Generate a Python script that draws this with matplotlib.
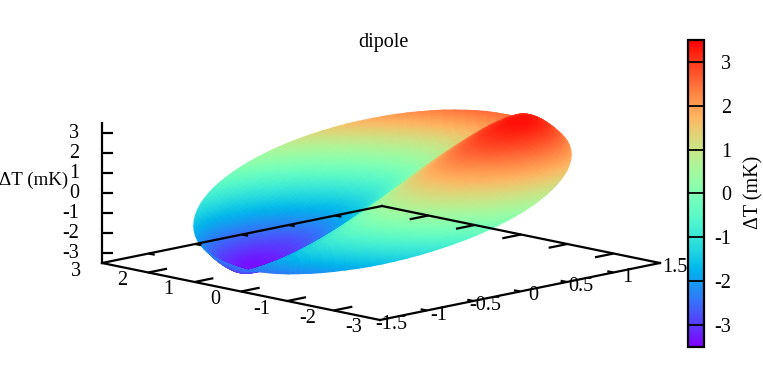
import numpy as np, matplotlib
matplotlib.use('Agg')
import matplotlib.pyplot as plt
from matplotlib.cm import ScalarMappable
from matplotlib.colors import Normalize
from matplotlib.tri import Triangulation, UniformTriRefiner, CubicTriInterpolator

plt.rcParams['font.family'] = ['Liberation Serif', 'DejaVu Serif']
plt.rcParams['axes.unicode_minus'] = False

# ---- data ----
lon_deg = [-180,-165,-150,-135,-120,-105,-90,-75,-60,-45,-30,-15,0,15,30,45,60,75,90,105,120,135,150,165,180]
lat_deg = [-90,-75,-60,-45,-30,-15,0,15,30,45,60,75,90]
dT_mK = [
 [-2.50]*25,
 [-2.35,-2.20,-2.07,-1.96,-1.88,-1.84,-1.83,-1.87,-1.94,-2.05,-2.18,-2.32,-2.47,-2.62,-2.75,-2.86,-2.94,-2.99,-2.99,-2.96,-2.88,-2.78,-2.65,-2.50,-2.35],
 [-2.04,-1.76,-1.50,-1.29,-1.14,-1.05,-1.04,-1.11,-1.25,-1.45,-1.71,-1.99,-2.28,-2.57,-2.82,-3.04,-3.19,-3.27,-3.28,-3.21,-3.07,-2.87,-2.62,-2.34,-2.04],
 [-1.60,-1.20,-0.83,-0.53,-0.31,-0.20,-0.18,-0.28,-0.48,-0.77,-1.12,-1.52,-1.93,-2.34,-2.70,-3.00,-3.22,-3.34,-3.35,-3.25,-3.05,-2.77,-2.41,-2.01,-1.60],
 [-1.04,-0.55,-0.10,0.26,0.53,0.67,0.69,0.57,0.33,-0.02,-0.46,-0.94,-1.45,-1.95,-2.39,-2.76,-3.03,-3.17,-3.18,-3.07,-2.82,-2.47,-2.04,-1.55,-1.04],
 [-0.42,0.13,0.63,1.04,1.34,1.50,1.51,1.38,1.11,0.72,0.24,-0.31,-0.87,-1.42,-1.92,-2.33,-2.63,-2.79,-2.81,-2.67,-2.40,-2.01,-1.53,-0.99,-0.42],
 [0.23,0.81,1.32,1.75,2.05,2.22,2.24,2.10,1.82,1.41,0.91,0.35,-0.23,-0.81,-1.32,-1.75,-2.05,-2.22,-2.24,-2.10,-1.82,-1.41,-0.91,-0.35,0.23],
 [0.87,1.42,1.92,2.33,2.63,2.79,2.81,2.67,2.40,2.01,1.53,0.99,0.42,-0.13,-0.63,-1.04,-1.34,-1.50,-1.51,-1.38,-1.11,-0.72,-0.24,0.31,0.87],
 [1.45,1.95,2.39,2.76,3.03,3.17,3.18,3.07,2.82,2.47,2.04,1.55,1.04,0.55,0.10,-0.26,-0.53,-0.67,-0.69,-0.57,-0.33,0.02,0.46,0.94,1.45],
 [1.93,2.34,2.70,3.00,3.22,3.34,3.35,3.25,3.05,2.77,2.41,2.01,1.60,1.20,0.83,0.53,0.31,0.20,0.18,0.28,0.48,0.77,1.12,1.52,1.93],
 [2.28,2.57,2.82,3.04,3.19,3.27,3.28,3.21,3.07,2.87,2.62,2.34,2.04,1.76,1.50,1.29,1.14,1.05,1.04,1.11,1.25,1.45,1.71,1.99,2.28],
 [2.47,2.62,2.75,2.86,2.94,2.99,2.99,2.96,2.88,2.78,2.65,2.50,2.35,2.20,2.07,1.96,1.88,1.84,1.83,1.87,1.94,2.05,2.18,2.32,2.47],
 [2.50]*25,
]
x_ticks = [3, 2, 1, 0, -1, -2, -3]
y_ticks = [-1.5, -1, -0.5, 0, 0.5, 1, 1.5]
z_ticks = [-3, -2, -1, 0, 1, 2, 3]
cb_ticks = [-3, -2, -1, 0, 1, 2, 3]
title = 'dipole'
z_label = '\u0394T (mK)'

# ---- figure and gnuplot-like view ----
W, H = 763, 385
FS = 14.5
fig = plt.figure(figsize=(W/100, H/100), dpi=100)
ax = fig.add_axes([0, 0, 1, 1])
ax.set_xlim(0, W); ax.set_ylim(H, 0); ax.axis('off')
XMIN, XMAX, YMIN, YMAX, ZMIN, ZMAX = -3, 3, -1.5, 1.5, -3.5, 3.5

def view(x, y, z):
    x, y, z = np.asarray(x, float), np.asarray(y, float), np.asarray(z, float)
    return 381 - 46.33*x + 93.33*y, 193 - 9.5*x - 19*y - 20*z

def hammer(lon, lat):
    d = np.sqrt(1 + np.cos(lat)*np.cos(lon/2))
    return 2.87*np.cos(lat)*np.sin(lon/2)/d, 1.435*np.sin(lat)/d

# ---- surface: table smoothed by the library's refiner, drawn with gouraud shading ----
LON, LAT = np.meshgrid(lon_deg, lat_deg)
n, m = LON.shape
ids = np.arange(n*m).reshape(n, m)
tris = np.vstack([
    np.c_[ids[:-1, :-1].ravel(), ids[:-1, 1:].ravel(), ids[1:, 1:].ravel()],
    np.c_[ids[:-1, :-1].ravel(), ids[1:, 1:].ravel(), ids[1:, :-1].ravel()]])
tri = Triangulation(LON.ravel().astype(float), LAT.ravel().astype(float), tris)
Zv = np.array(dT_mK, float).ravel()
fine, zf = UniformTriRefiner(tri).refine_field(Zv, CubicTriInterpolator(tri, Zv, kind='geom'), subdiv=2)
xf, yf = hammer(np.radians(fine.x), np.radians(fine.y))
depth = xf/3 + yf/1.5 - zf/3.5
order = np.argsort(-depth[fine.triangles].mean(axis=1))
sx, sy = view(xf, yf, zf)
ax.tripcolor(Triangulation(sx + 1.5, sy + 0.5, fine.triangles[order]), zf, shading='gouraud',
             cmap='rainbow', vmin=ZMIN, vmax=ZMAX, zorder=1)

# ---- axes box ----
LW = 1.6
def seg(p, q, cap='projecting'):
    a = view(*p); b = view(*q)
    ax.plot([a[0], b[0]], [a[1], b[1]], color='k', lw=LW, solid_capstyle=cap, zorder=3)

seg((XMAX, YMIN, ZMIN), (XMIN, YMIN, ZMIN))
seg((XMIN, YMIN, ZMIN), (XMIN, YMAX, ZMIN))
seg((XMIN, YMAX, ZMIN), (XMAX, YMAX, ZMIN))
seg((XMAX, YMAX, ZMIN), (XMAX, YMIN, ZMIN))
seg((XMAX, YMIN, ZMIN), (XMAX, YMIN, ZMAX))

def label(px, py, s, ha='center', fs=FS):
    ax.text(px, py, s, ha=ha, va='center', fontsize=fs, color='k', zorder=4)

for t in x_ticks:
    if abs(t) < 3:
        seg((t, YMIN, ZMIN), (t, YMIN + 0.2, ZMIN), 'butt')
        seg((t, YMAX, ZMIN), (t, YMAX - 0.2, ZMIN), 'butt')
    px, py = view(t, YMIN, ZMIN)
    label(px - 26, py + 8, str(t))
for t in y_ticks:
    if abs(t) < 1.5:
        seg((XMIN, t, ZMIN), (XMIN + 0.13, t, ZMIN), 'butt')
        seg((XMAX, t, ZMIN), (XMAX - 0.13, t, ZMIN), 'butt')
    px, py = view(XMIN, t, ZMIN)
    label(px + 13 + 1.4*t, py + 4.5, f'{t:g}')
for t in z_ticks:
    px, py = view(XMAX, YMIN, t)
    ax.plot([px, px + 11], [py, py], color='k', lw=LW, solid_capstyle='butt', zorder=3)
    label(79, py, str(t), ha='right')
label(68, 180, z_label, ha='right', fs=13.6)
ax.text(383, 42, title, ha='center', va='center', fontsize=FS, color='k')

# ---- colour bar ----
cax = fig.add_axes([688/W, 1 - 347/H, 16/W, 307/H])
cb = fig.colorbar(ScalarMappable(Normalize(ZMIN, ZMAX), 'rainbow'), cax=cax)
cb.set_ticks(cb_ticks, labels=[str(t) for t in cb_ticks])
cb.ax.tick_params(direction='in', length=11.5, width=1.3, labelsize=FS, pad=19.5, color='k')
for lab in cb.ax.get_yticklabels():
    lab.set_ha('right')
cb.outline.set_linewidth(1.6)
ax.text(754, 192, z_label, rotation=90, ha='center', va='center', fontsize=FS, color='k')

fig.savefig('out.png', dpi=100)
